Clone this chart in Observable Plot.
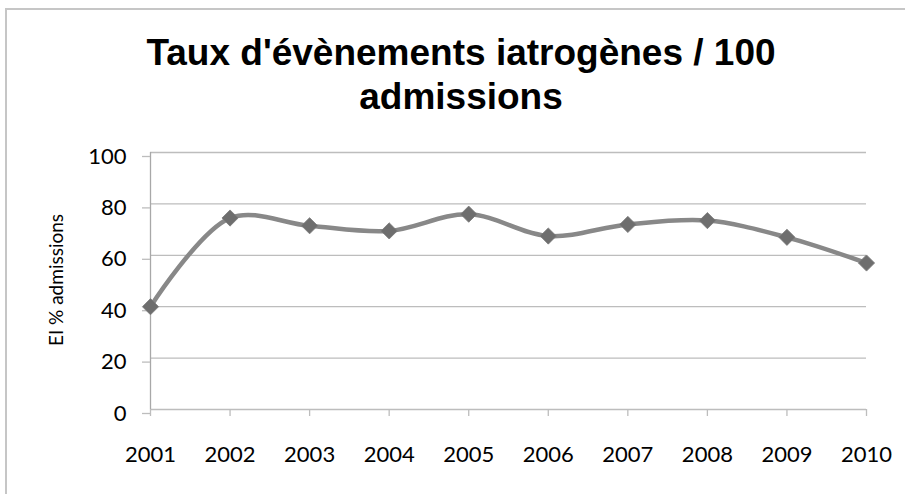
<!DOCTYPE html>
<html>
<head>
<meta charset="utf-8">
<script src="https://cdn.jsdelivr.net/npm/d3@7"></script>
<script src="https://cdn.jsdelivr.net/npm/@observablehq/plot@0.6"></script>
<style>
  html, body { margin: 0; padding: 0; background: #fff; }
  #wrap { position: relative; width: 905px; height: 494px; overflow: hidden; background: #fff; }
  #frame { position: absolute; left: 5px; top: 8px; width: 930px; height: 520px; border: 2px solid #c6c6c6; box-sizing: border-box; }
  #title { position: absolute; left: 11px; top: 30.5px; width: 900px; text-align: center;
           font-family: "Liberation Sans", Arial, sans-serif; font-weight: bold; font-size: 37px; line-height: 44px; color: #000; }
  #ylabel { position: absolute; left: 55px; top: 280px; transform: translate(-50%, -50%) rotate(-90deg);
            white-space: nowrap; font-family: Lato, sans-serif; font-size: 19px; color: #000; }
  #chart { position: absolute; left: 0; top: 130px; }
</style>
</head>
<body>
<div id="wrap">
  <div id="frame"></div>
  <div id="title">Taux d'évènements iatrogènes / 100<br>admissions</div>
  <div id="ylabel">EI % admissions</div>
  <div id="chart"></div>
</div>
<script>
const years = [2001, 2002, 2003, 2004, 2005, 2006, 2007, 2008, 2009, 2010];
const rates = [40, 74.5, 71.5, 69.5, 76, 67.5, 72, 73.5, 67, 57];
const yTicks = [0, 20, 40, 60, 80, 100];

const data = years.map((year, i) => ({year, rate: rates[i]}));

const chart = Plot.plot({
  width: 905,
  height: 364,
  marginTop: 22,
  marginBottom: 85,
  marginLeft: 150,
  marginRight: 39,
  style: {fontFamily: "Lato, sans-serif", fontSize: "22px", color: "#000", background: "transparent", overflow: "visible"},
  x: {domain: [2001, 2010]},
  y: {domain: [0, 100]},
  marks: [
    Plot.ruleY(yTicks, {stroke: "#bdbdbd", strokeWidth: 1.3}),
    Plot.ruleX([2001], {y1: 0, y2: 100, stroke: "#a8a8a8", strokeWidth: 1.3}),
    Plot.axisY({ticks: yTicks, tickSize: 8, tickPadding: 16, stroke: "#bdbdbd", strokeWidth: 1.3, label: null, dy: 4, tickFormat: d => String(d)}),
    Plot.axisX({ticks: years, tickSize: 7, tickPadding: 30, stroke: "#bdbdbd", strokeWidth: 1.3, label: null, tickFormat: d => String(d)}),
    Plot.line(data, {x: "year", y: "rate", curve: "catmull-rom", stroke: "#888888", strokeWidth: 4.5}),
    Plot.dot(data, {x: "year", y: "rate", symbol: "diamond2", r: 7.3, fill: "#6e6e6e", stroke: "#7a7a7a", strokeWidth: 0.8})
  ]
});
document.getElementById("chart").appendChild(chart);
</script>
</body>
</html>
